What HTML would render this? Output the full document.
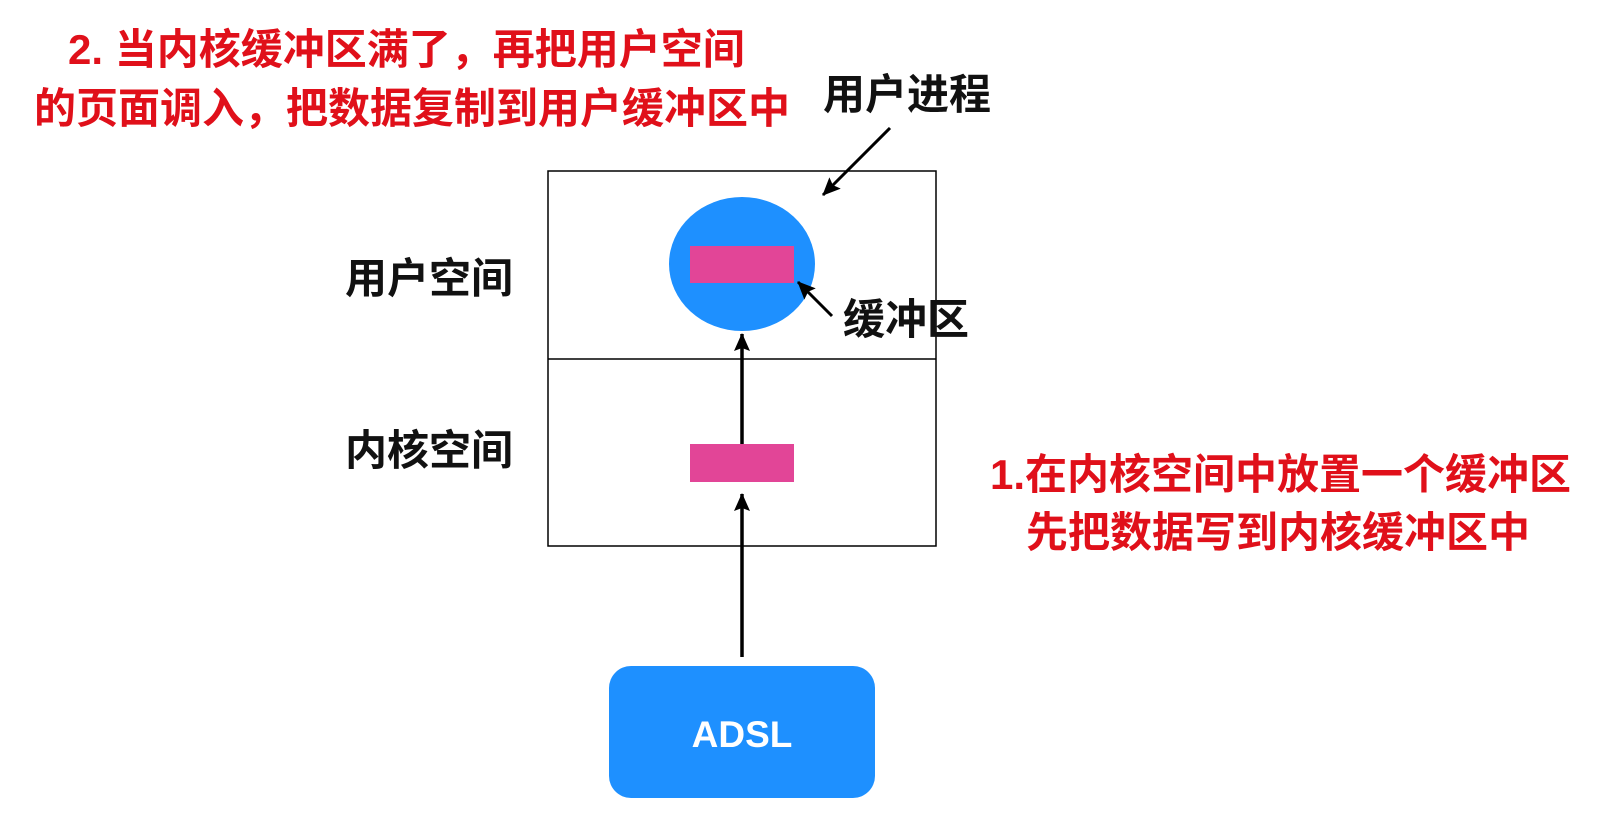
<!DOCTYPE html>
<html><head><meta charset="utf-8"><style>
html,body{margin:0;padding:0;background:#fff;}
body{width:1604px;height:820px;position:relative;overflow:hidden;font-family:"Liberation Sans","Noto Sans CJK SC",sans-serif;}
.t{position:absolute;white-space:nowrap;font-weight:bold;line-height:1;}
.red{color:#e0101a;font-size:42px;}
.blk{color:#111;font-size:42px;}
</style></head><body>
<svg width="1604" height="820" style="position:absolute;left:0;top:0">
<defs>
<marker id="b" markerWidth="18" markerHeight="16" refX="17" refY="8" orient="auto" markerUnits="userSpaceOnUse"><path d="M0,0 L18,8 L0,16 L3,8 Z" fill="#000"/></marker></defs>
<rect x="548" y="171" width="388" height="375" fill="none" stroke="#000" stroke-width="1.5"/>
<line x1="548" y1="359" x2="936" y2="359" stroke="#000" stroke-width="1.5"/>
<ellipse cx="742" cy="264" rx="73" ry="67" fill="#1e90ff"/>
<rect x="690" y="246" width="104" height="37" fill="#e24597"/>
<rect x="690" y="444" width="104" height="38" fill="#e24597"/>
<line x1="742" y1="657" x2="742" y2="494" stroke="#000" stroke-width="3.5" marker-end="url(#b)"/>
<line x1="742" y1="444" x2="742" y2="334" stroke="#000" stroke-width="3.5" marker-end="url(#b)"/>
<line x1="890" y1="128" x2="823" y2="195" stroke="#000" stroke-width="3" marker-end="url(#b)"/>
<line x1="832" y1="316" x2="798" y2="282" stroke="#000" stroke-width="3" marker-end="url(#b)"/>
<rect x="609" y="666" width="266" height="132" rx="22" fill="#1e90ff"/>
<text x="742" y="747" text-anchor="middle" fill="#fff" font-family="Liberation Sans,sans-serif" font-size="37" font-weight="bold">ADSL</text>
</svg>
<div class="t red" style="left:68px;top:29px;">2. 当内核缓冲区满了，再把用户空间</div>
<div class="t red" style="left:34px;top:88px;">的页面调入，把数据复制到用户缓冲区中</div>
<div class="t blk" style="left:823px;top:74px;">用户进程</div>
<div class="t blk" style="left:843px;top:299px;">缓冲区</div>
<div class="t blk" style="left:345px;top:258px;">用户空间</div>
<div class="t blk" style="left:345px;top:430px;">内核空间</div>
<div class="t red" style="left:990px;top:454px;">1.在内核空间中放置一个缓冲区</div>
<div class="t red" style="left:1026px;top:512px;">先把数据写到内核缓冲区中</div>
</body></html>
